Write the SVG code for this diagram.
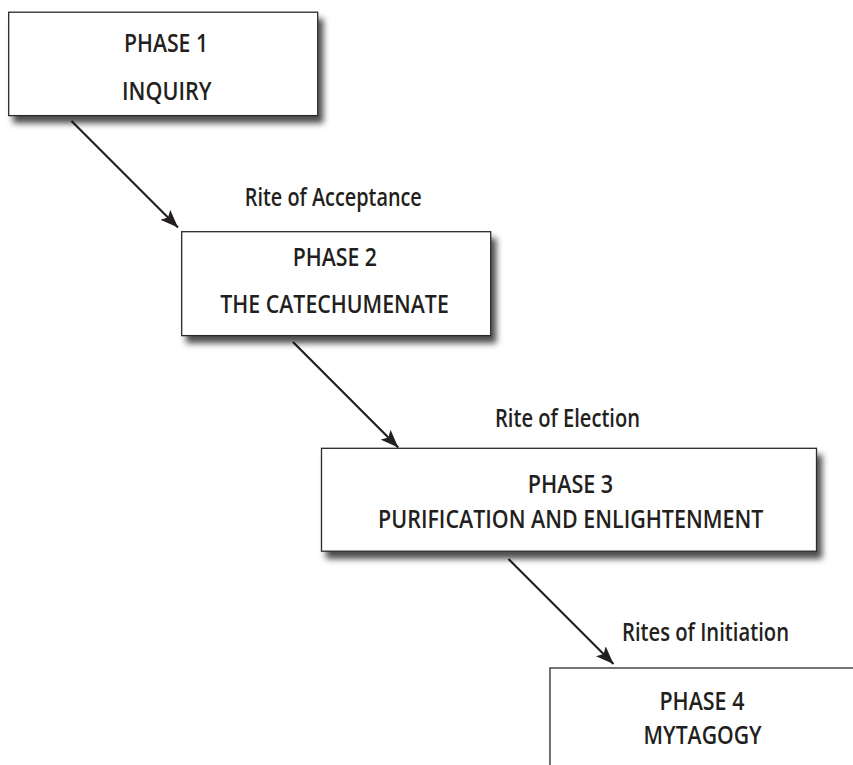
<svg xmlns="http://www.w3.org/2000/svg" width="853" height="765" viewBox="0 0 853 765">
<style>
.box{fill:#fff;stroke:#2a2a2a;stroke-width:1.3;filter:url(#sh)}
.t{font-family:"Open Sans","Liberation Sans",sans-serif;font-weight:600;font-size:25.5px;fill:#231f20}
.c{stroke:#231f20;stroke-width:2.2;fill:none;marker-end:url(#ah)}
</style>
<defs>
<filter id="sh" x="-10%" y="-20%" width="130%" height="150%">
<feDropShadow dx="5" dy="7" stdDeviation="3.2" flood-color="#000" flood-opacity="0.7"/>
</filter>
<marker id="ah" markerUnits="userSpaceOnUse" markerWidth="19" markerHeight="14" refX="18" refY="7" orient="auto" viewBox="0 0 19 14">
<path d="M0,0 L18,7 L0,14 L4,7 z" fill="#231f20"/>
</marker>
</defs>
<g id="connectors">
<line class="c" x1="71.5" y1="121" x2="178" y2="227.5"/>
<line class="c" x1="293" y1="342" x2="398.3" y2="447.5"/>
<line class="c" x1="508.5" y1="559" x2="613.5" y2="664"/>
<text class="t" x="244.8" y="205.5" textLength="177" lengthAdjust="spacingAndGlyphs">Rite of Acceptance</text>
<text class="t" x="495" y="426.5" textLength="145" lengthAdjust="spacingAndGlyphs">Rite of Election</text>
<text class="t" x="622" y="640.5" textLength="167" lengthAdjust="spacingAndGlyphs">Rites of Initiation</text>
</g>
<g id="phase1">
<rect class="box" x="8.7" y="12.2" width="309" height="103.4"/>
<text class="t" x="124" y="51.5" textLength="84" lengthAdjust="spacingAndGlyphs">PHASE 1</text>
<text class="t" x="122" y="99.5" textLength="89.5" lengthAdjust="spacingAndGlyphs">INQUIRY</text>
</g>
<g id="phase2">
<rect class="box" x="181.7" y="231.7" width="309" height="103.9"/>
<text class="t" x="292.7" y="266" textLength="84.3" lengthAdjust="spacingAndGlyphs">PHASE 2</text>
<text class="t" x="220.3" y="313.3" textLength="228.5" lengthAdjust="spacingAndGlyphs">THE CATECHUMENATE</text>
</g>
<g id="phase3">
<rect class="box" x="321.5" y="448.3" width="495" height="102.9"/>
<text class="t" x="527.7" y="492.7" textLength="85.5" lengthAdjust="spacingAndGlyphs">PHASE 3</text>
<text class="t" x="378.1" y="528" textLength="385.2" lengthAdjust="spacingAndGlyphs">PURIFICATION AND ENLIGHTENMENT</text>
</g>
<g id="phase4">
<rect class="box" x="550" y="668" width="309" height="103"/>
<text class="t" x="659.4" y="710.3" textLength="85" lengthAdjust="spacingAndGlyphs">PHASE 4</text>
<text class="t" x="643.6" y="744" textLength="118" lengthAdjust="spacingAndGlyphs">MYTAGOGY</text>
</g>
</svg>
